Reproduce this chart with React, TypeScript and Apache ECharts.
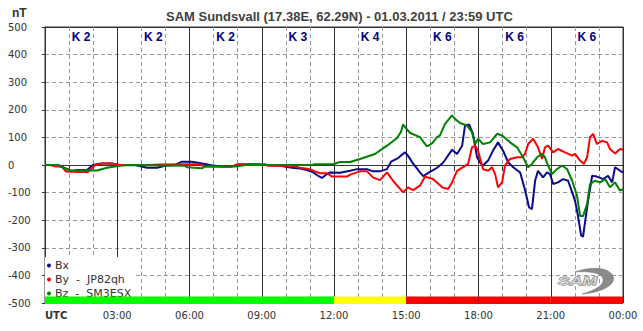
import React, { useEffect, useRef } from 'react';
import * as echarts from 'echarts';

// time in hours (UTC), value in nT
const bxData: [number, number][] = [
  [0, 0], [0.54, 0], [0.79, -10], [1.12, -22], [1.37, -18], [1.74, -18], [1.99, 0], [2.28, 5], [2.82, 5],
  [3.11, 0], [3.74, 0], [4.24, -10], [4.65, -10], [4.98, -3], [5.4, 0], [5.69, 12], [6.1, 12], [6.35, 8],
  [6.85, 0], [7.27, -5], [7.77, -5], [8.1, 2], [8.72, 3], [9.14, 0], [9.76, -3], [10.26, -10], [10.59, -13],
  [10.92, -19], [11.13, -27], [11.34, -39], [11.5, -47], [11.67, -35], [11.84, -27], [12.25, -28], [12.67, -21],
  [12.96, -15], [13.37, -15], [13.62, -23], [13.91, -23], [14.2, -15], [14.37, 12], [14.66, 25], [14.95, 46],
  [15.07, 34], [15.28, 6], [15.57, -27], [15.7, -40], [15.99, -25], [16.28, -10], [16.53, 8], [16.9, 55],
  [17.11, 40], [17.32, 70], [17.44, 143], [17.61, 147], [17.77, 113], [17.94, 28], [18.06, 10], [18.19, -2],
  [18.4, 16], [18.6, 52], [18.81, 82], [19.02, 52], [19.23, 10], [19.44, -8], [19.73, -27], [19.93, -90],
  [20.1, -154], [20.22, -160], [20.35, -57], [20.47, -21], [20.68, -45], [20.85, -27], [20.97, -33], [21.1, -69],
  [21.3, -63], [21.51, -51], [21.72, -57], [21.89, -99], [22.01, -130], [22.13, -184], [22.26, -255],
  [22.34, -260], [22.43, -203], [22.55, -130], [22.72, -39], [22.92, -42], [23.17, -51], [23.38, -39],
  [23.55, -63], [23.67, -8], [23.88, -21], [24, -27],
];

const byData: [number, number][] = [
  [0, 0], [0.21, 0], [0.42, -5], [0.71, -5], [0.87, -24], [1.45, -25], [1.79, -25], [2.08, 0], [2.37, 5],
  [2.78, 5], [3.11, 0], [4.36, 0], [4.78, 2], [6.35, 3], [6.64, -5], [7.77, -5], [8.01, 3], [9.14, 3],
  [9.26, -3], [10.26, -3], [10.59, -10], [11.0, -15], [11.21, -23], [11.42, -30], [11.71, -30], [11.92, -42],
  [12.54, -42], [12.67, -35], [13.08, -23], [13.37, -23], [13.62, -45], [13.91, -55], [14.2, -27], [14.45, -57],
  [14.87, -99], [15.07, -81], [15.28, -91], [15.57, -75], [15.78, -42], [16.11, -51], [16.49, -81], [16.74, -87],
  [16.9, -63], [17.11, -21], [17.36, -8], [17.57, 4], [17.73, 64], [17.86, 70], [17.98, 52], [18.19, -15],
  [18.4, -21], [18.56, -8], [18.69, -33], [18.81, -81], [18.98, -63], [19.1, -2], [19.31, 22], [19.6, 28],
  [19.81, 28], [19.93, 40], [20.06, 76], [20.27, 95], [20.47, 64], [20.64, 22], [20.76, 64], [20.89, 70],
  [21.1, 46], [21.3, 58], [21.59, 46], [21.89, 34], [22.01, 40], [22.22, 16], [22.38, 4], [22.51, 28],
  [22.63, 101], [22.76, 113], [22.92, 76], [23.13, 88], [23.34, 82], [23.46, 58], [23.67, 42], [23.88, 58],
  [24, 55],
];

const bzData: [number, number][] = [
  [0, 0], [0.5, 0], [0.75, -10], [1.04, -20], [2.16, -20], [2.57, -10], [3.11, -3], [3.53, 0], [5.81, -3],
  [5.9, -8], [6.52, -12], [6.64, -5], [8.01, -5], [8.31, 0], [11.09, 0], [11.21, 3], [11.96, 3], [12.25, 11],
  [12.67, 11], [13.08, 22], [13.7, 40], [14.2, 70], [14.62, 98], [14.78, 120], [14.87, 147], [14.95, 137],
  [15.16, 116], [15.57, 101], [15.86, 67], [16.07, 78], [16.28, 101], [16.4, 107], [16.61, 149], [16.9, 180],
  [17.03, 167], [17.23, 152], [17.52, 143], [17.73, 119], [17.86, 76], [17.98, 95], [18.19, 76], [18.48, 82],
  [18.77, 113], [18.98, 107], [19.31, 82], [19.6, 64], [19.85, 28], [20.06, -8], [20.22, 4], [20.43, 28],
  [20.64, 40], [20.76, 28], [20.89, -2], [21.05, -33], [21.26, -15], [21.47, -2], [21.68, -15], [21.89, -57],
  [22.09, -112], [22.22, -185], [22.34, -185], [22.51, -142], [22.63, -69], [22.84, -57], [23.05, -63],
  [23.26, -51], [23.46, -81], [23.67, -63], [23.88, -93], [24, -87],
];

// planetary K index per 3-hour block
const kStarts = [0, 3, 6, 9, 12, 15, 18, 21];
const kValues = [2, 2, 2, 3, 4, 6, 6, 6];

const seriesNames = ['Bx', 'By  -  JP82qh', 'Bz  -  SM3ESX'];
const seriesColors = ['#0a0a8c', '#ff0000', '#008000'];
const titleText = 'SAM Sundsvall (17.38E, 62.29N) - 01.03.2011 / 23:59 UTC';

const swooshD = 'M5 6 C18 1 38 0 43 10 C47 19 30 27 12 28 C26 24 34 19 33 13 C32 7 20 5 5 6 Z';

let registered = false;
function registerShapes() {
  if (registered) return;
  registered = true;
  echarts.graphic.registerShape('swoosh', echarts.graphic.extendPath(swooshD, {}) as any);
}

function kColor(k: number) {
  if (k >= 5) return '#ff0000';
  if (k === 4) return '#ffff00';
  return '#00ff00';
}

function pad2(n: number) {
  return (n < 10 ? '0' : '') + n;
}

export default function App() {
  const ref = useRef<HTMLDivElement>(null);
  useEffect(() => {
    if (!ref.current) return;
    registerShapes();
    const chart = echarts.init(ref.current, undefined, { renderer: 'svg' });
    const font = 'DejaVu Sans';
    const kData = kStarts.map((s, i) => [s, s + 3, kValues[i]]);
    const option: any = {
      animation: false,
      backgroundColor: '#ffffff',
      title: {
        text: titleText,
        left: 161,
        top: 5,
        textStyle: { fontSize: 13, fontWeight: 'bold', color: '#404040', fontFamily: 'Liberation Sans' },
      },
      grid: { left: 45, right: 20, top: 27, bottom: 28, show: true, borderColor: '#333', borderWidth: 1, backgroundColor: 'transparent' },
      legend: {
        orient: 'vertical',
        left: 45,
        top: 257,
        padding: [2, 4, 0, 2],
        itemGap: 1,
        itemWidth: 4,
        itemHeight: 4,
        icon: 'circle',
        backgroundColor: '#ffffff',
        data: seriesNames,
        textStyle: { fontSize: 11, color: '#333', fontFamily: font, lineHeight: 13, padding: [0, 0, 0, -1] },
      },
      xAxis: [
        {
          type: 'value', min: 0, max: 24, interval: 1,
          axisLine: { show: true, lineStyle: { color: '#333', width: 1 } },
          axisTick: { show: true, length: 6, lineStyle: { color: '#333' } },
          axisLabel: {
            fontSize: 10, color: '#333', fontFamily: font, margin: 7,
            showMinLabel: true, showMaxLabel: true, alignMinLabel: 'left',
            formatter: (v: number) => (v === 0 ? '{b|UTC}' : v % 3 === 0 ? pad2(v % 24) + ':00' : ''),
            rich: { b: { fontWeight: 'bold', fontSize: 10, color: '#333', fontFamily: font } },
          },
          splitLine: { show: true, lineStyle: { color: '#999', type: [4, 3], width: 1 } },
        },
        {
          type: 'value', min: 0, max: 24, interval: 3, position: 'top',
          axisLine: { show: false }, axisTick: { show: false }, axisLabel: { show: false },
          splitLine: { show: true, lineStyle: { color: '#333', type: 'solid', width: 1 } },
        },
      ],
      yAxis: [
        {
          type: 'value', min: -500, max: 500, interval: 100,
          axisLine: { show: true, lineStyle: { color: '#333' } },
          axisTick: { show: true, length: 3, lineStyle: { color: '#333' } },
          axisLabel: { fontSize: 10, color: '#333', fontFamily: font, align: 'left', margin: 37 },
          splitLine: { show: true, lineStyle: { color: '#999', type: [4, 3], width: 1 } },
        },
        {
          type: 'value', min: -500, max: 500, interval: 500, position: 'left',
          axisLine: { show: false }, axisTick: { show: false }, axisLabel: { show: false },
          splitLine: { show: true, lineStyle: { color: '#333', type: 'solid', width: 1 } },
        },
      ],
      series: [
        ...[bxData, byData, bzData].map((d, i) => ({
          name: seriesNames[i],
          type: 'line',
          data: d,
          showSymbol: false,
          symbol: 'circle',
          color: seriesColors[i],
          lineStyle: { width: 2, color: seriesColors[i] },
          z: 3,
        })),
        {
          type: 'custom',
          name: 'kbar',
          data: kData,
          encode: { x: [0, 1], y: 2 },
          z: 6,
          clip: false,
          renderItem: (params: any, api: any) => {
            const p1 = api.coord([api.value(0), -476]);
            const p2 = api.coord([api.value(1), -500]);
            return {
              type: 'rect',
              shape: { x: p1[0], y: p1[1], width: p2[0] - p1[0], height: p2[1] - p1[1] + 1 },
              style: { fill: kColor(api.value(2)) },
            };
          },
        },
        {
          type: 'custom',
          name: 'klabels',
          data: kData,
          encode: { x: [0, 1], y: 2 },
          z: 6,
          clip: false,
          renderItem: (params: any, api: any) => {
            const p = api.coord([(api.value(0) + api.value(1)) / 2, 500]);
            return {
              type: 'text',
              x: p[0],
              y: p[1] + 10,
              style: {
                text: 'K ' + api.value(2),
                fill: '#000080',
                fontSize: 12,
                fontWeight: 'bold',
                fontFamily: 'Liberation Sans',
                align: 'center',
                verticalAlign: 'middle',
              },
            };
          },
        },
      ],
      graphic: [
        {
          type: 'text', left: 12, top: 7,
          style: { text: 'nT', fontSize: 12, fontWeight: 'bold', fill: '#333', fontFamily: 'Liberation Sans' },
        },
        {
          type: 'swoosh', x: 570, y: 266, scaleX: 1, scaleY: 1, z: 7,
          style: { fill: '#8a8a8a', stroke: '#777', lineWidth: 0.5 },
        },
        {
          type: 'text', x: 558, y: 281, scaleX: 1.6, z: 8,
          style: {
            text: 'SAM', fontSize: 11, fontStyle: 'italic', fontWeight: 'bold', fontFamily: 'Liberation Sans',
            fill: '#d4d4d4', stroke: '#666', lineWidth: 0.8, verticalAlign: 'middle',
          },
        },
      ],
    };
    chart.setOption(option);
    return () => chart.dispose();
  }, []);
  return <div ref={ref} style={{ width: 643, height: 331, position: 'absolute', left: 0, top: 0 }} />;
}
